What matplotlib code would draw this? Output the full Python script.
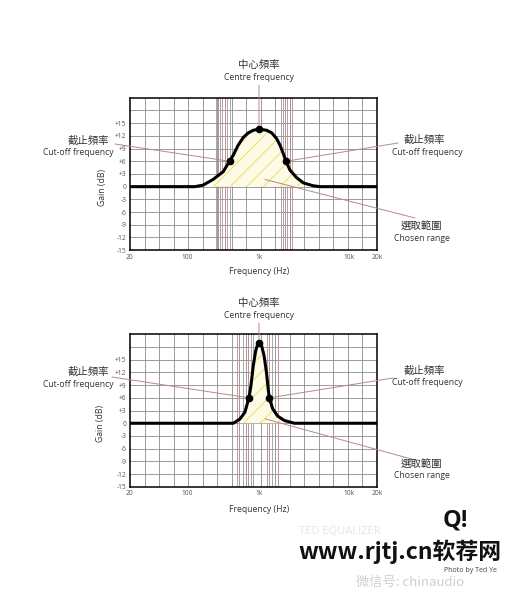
import numpy as np
import matplotlib
matplotlib.use('Agg')
import matplotlib.pyplot as plt

# 數據
top_hz = [20, 128, 167, 230, 317, 390, 438, 514, 604, 709, 832, 1000, 1218, 1384, 1573, 1711, 1862, 1995, 2210, 2624, 3107, 4010, 4760, 20000]
top_db = [0, 0, 0.35, 1.7, 3.5, 6.0, 7.4, 9.8, 11.6, 12.7, 13.3, 13.6, 13.3, 12.7, 11.3, 9.8, 7.8, 6.0, 3.9, 2.1, 0.9, 0.2, 0, 0]
top_cut = [390, 1995]
top_peak = (1000, 13.6)
top_range = (225, 3200)
top_guides_red = [268, 335, 1946, 2210]
top_guides_gray = [251, 285, 304, 357, 394, 1755, 1848, 2049, 2325]

bot_hz = [20, 440, 543, 637, 725, 773, 833, 899, 965, 1000, 1060, 1140, 1210, 1265, 1300, 1420, 1610, 1910, 2470, 20000]
bot_db = [0, 0, 1.0, 2.6, 6.0, 8.9, 13.6, 17.1, 18.8, 19.0, 18.6, 15.9, 12.0, 8.1, 6.0, 3.4, 1.7, 0.66, 0, 0]
bot_cut = [725, 1300]
bot_peak = (1000, 19.0)
bot_range = (500, 2000)
bot_guides_red = [526, 702, 1292, 1626]
bot_guides_gray = [493, 598, 773, 824, 1227, 1394]

x_ticks = [20, 100, 1000, 10000, 20000]
x_labels = ['20', '100', '1k', '10k', '20k']
y_ticks = list(range(-15, 16, 3))
y_labels = [('+%d' % v if v > 0 else str(v)) for v in y_ticks]

# 圖上的頻率軸不是標準對數，按刻度位置分段
LOG_T = np.log10(x_ticks)
POS_T = np.array([0, 57, 129, 219, 247]) / 247.0


def fwd(x):
    return np.interp(np.log10(np.maximum(x, 1e-9)), LOG_T, POS_T)


def inv(u):
    return 10 ** np.interp(u, POS_T, LOG_T)


W, H = 520, 600
CJK = ['Noto Sans CJK TC', 'DejaVu Sans']
EN = ['Open Sans', 'DejaVu Sans']
LINE_C = '#b48a8a'
TXT_C = '#333333'

plt.rcParams['hatch.linewidth'] = 0.6

fig = plt.figure(figsize=(W / 100, H / 100), dpi=100)


def fx(px):
    return px / W


def fy(py):
    return 1 - py / H


def txt(px, py, s, fam, size, **kw):
    fig.text(fx(px), fy(py), s, family=fam, fontsize=size, color=kw.pop('color', TXT_C),
             ha=kw.pop('ha', 'center'), va=kw.pop('va', 'center'), **kw)


def panel(top_px, hz, db, cut, peak, rng, g_red, g_gray, chosen_db, labels):
    ax = fig.add_axes([fx(130), fy(top_px + 152.5), 247 / W, 152.5 / H])
    ax.set_xscale('function', functions=(fwd, inv))
    ax.set_xlim(20, 20000)
    ax.set_ylim(-15, 21)

    # 網格
    for k in range(1, 17):
        ax.plot([k / 17, k / 17], [0, 1], transform=ax.transAxes, color='#8c8c8c', lw=0.6, zorder=1)
    for v in range(-12, 21, 3):
        ax.axhline(v, color='#8c8c8c', lw=0.6, zorder=1)
    for f in g_gray:
        ax.axvline(f, color='#9a9a9a', lw=0.6, zorder=1)
    for f in g_red:
        ax.axvline(f, color='#c98a8a', lw=0.7, zorder=1)

    hz = np.array(hz)
    db = np.array(db)
    mask = (hz >= rng[0]) & (hz <= rng[1])
    ax.fill_between(hz, 0, db, where=mask, facecolor='#fdfbe6', edgecolor='#e6dc5a',
                    hatch='//', linewidth=0, zorder=2)
    ax.plot(hz, db, color='black', lw=2.2, solid_joinstyle='round', zorder=4)
    ax.plot(cut, [db[list(hz).index(c)] for c in cut], 'o', color='black', ms=4.5, zorder=5)
    ax.plot([peak[0]], [peak[1]], 'o', color='black', ms=4.5, zorder=5)

    ax.set_xticks(x_ticks)
    ax.set_xticklabels(x_labels)
    ax.set_xticks([], minor=True)
    ax.set_yticks(y_ticks)
    ax.set_yticklabels(y_labels)
    ax.tick_params(length=0, labelsize=4.8, labelcolor='#555555', pad=2.5)
    for lab in ax.get_xticklabels() + ax.get_yticklabels():
        lab.set_family(EN)
    for sp in ax.spines.values():
        sp.set_linewidth(1.1)
        sp.set_color('black')

    # 標注線
    def line(xy, p):
        ax.annotate('', xy=xy, xycoords='data', xytext=(fx(p[0]), fy(p[1])),
                    textcoords='figure fraction', annotation_clip=False,
                    arrowprops=dict(arrowstyle='-', color=LINE_C, lw=0.7, shrinkA=0, shrinkB=0),
                    zorder=3)

    line(peak, labels['centre'])
    line((cut[0], 6.0), labels['left'])
    line((cut[1], 6.0), labels['right'])
    line((1166, chosen_db), labels['chosen'])
    return ax


panel(97.7, top_hz, top_db, top_cut, top_peak, top_range, top_guides_red, top_guides_gray, 1.7,
      dict(centre=(259, 85), left=(115, 144), right=(398, 143), chosen=(415, 218)))
panel(334.3, bot_hz, bot_db, bot_cut, bot_peak, bot_range, bot_guides_red, bot_guides_gray, 1.05,
      dict(centre=(259, 323), left=(112, 377), right=(393, 378), chosen=(415, 460)))

# 文字
for dy, gx in [(0, 103), (238, 100)]:
    txt(259, 65 + dy, '中心頻率', CJK, 7.5)
    txt(259, 78 + dy, 'Centre frequency', EN, 6.2)
    txt(gx, 187 + dy * 0.992, 'Gain (dB)', EN, 6.2, rotation=90)
    txt(259, 271 + dy * 1.004, 'Frequency (Hz)', EN, 6.2)
    txt(88, 140.5 + dy * 0.972, '截止頻率', CJK, 7.5)
    txt(78, 152 + dy * 0.977, 'Cut-off frequency', EN, 6.2)
    txt(424, 140 + dy * 0.97, '截止頻率', CJK, 7.5)
    txt(427, 152 + dy * 0.97, 'Cut-off frequency', EN, 6.2)
    txt(421, 227 + dy, '選取範圍', CJK, 7.5)
    txt(422, 238 + dy, 'Chosen range', EN, 6.2)

# 水印
txt(340, 532, 'TED EQUALIZER', EN, 8, color='#e4e4e4')
txt(455, 521, 'Q!', EN, 17, weight='bold', color='#111111')
txt(400, 552, 'www.rjtj.cn软荐网', ['Noto Sans CJK SC', 'DejaVu Sans'], 16.5, weight='bold', color='#111111')
txt(470, 570, 'Photo by Ted Ye', EN, 5, color='#444444')
txt(410, 582, '微信号: chinaudio', ['Noto Sans CJK SC', 'DejaVu Sans'], 9.5, color='#cfcfcf')

fig.savefig('out.png', dpi=100, facecolor='white')
